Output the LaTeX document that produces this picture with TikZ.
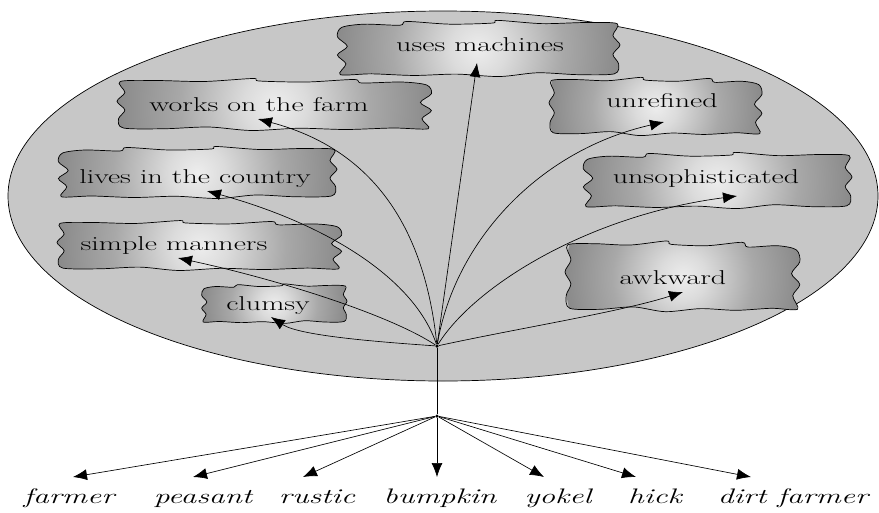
\documentclass[tikz,border=0pt]{standalone}
\usepackage{graphicx}
\usetikzlibrary{arrows.meta}

% 紙片の陰影
\pgfdeclareradialshading{blobshade}{\pgfpoint{0bp}{0bp}}{%
  color(0bp)=(black!7); color(5bp)=(black!14); color(15bp)=(black!34);
  color(30bp)=(black!52); color(50bp)=(black!64)}

% 横に伸ばした文字
\newcommand{\widetxt}[1]{\scalebox{1.5}[1]{#1}}

% 破れた紙片の輪郭
\def\tornpath{plot[smooth cycle, tension=0.5] coordinates {
  ({\bx-0.96*\bw},{\by-0.80*\bh}) ({\bx-0.80*\bw},{\by-0.92*\bh})
  ({\bx-0.55*\bw},{\by-0.88*\bh}) ({\bx-0.50*\bw},{\by-1.02*\bh})
  ({\bx-0.20*\bw},{\by-0.92*\bh}) ({\bx+0.10*\bw},{\by-0.96*\bh})
  ({\bx+0.14*\bw},{\by-1.06*\bh}) ({\bx+0.45*\bw},{\by-0.94*\bh})
  ({\bx+0.75*\bw},{\by-0.98*\bh}) ({\bx+0.98*\bw},{\by-0.94*\bh})
  ({\bx+0.95*\bw},{\by-0.50*\bh}) ({\bx+1.00*\bw},{\by-0.15*\bh})
  ({\bx+0.95*\bw},{\by+0.20*\bh}) ({\bx+0.99*\bw},{\by+0.55*\bh})
  ({\bx+0.96*\bw},{\by+0.92*\bh}) ({\bx+0.70*\bw},{\by+0.95*\bh})
  ({\bx+0.42*\bw},{\by+0.88*\bh}) ({\bx+0.15*\bw},{\by+1.02*\bh})
  ({\bx-0.15*\bw},{\by+0.93*\bh}) ({\bx-0.45*\bw},{\by+0.98*\bh})
  ({\bx-0.75*\bw},{\by+0.92*\bh}) ({\bx-0.97*\bw},{\by+0.95*\bh})
  ({\bx-0.93*\bw},{\by+0.55*\bh}) ({\bx-0.99*\bw},{\by+0.22*\bh})
  ({\bx-0.92*\bw},{\by-0.10*\bh}) ({\bx-0.99*\bw},{\by-0.45*\bh})}}

\newcommand{\tornblob}[4]{%
  \def\bx{#1}\def\by{#2}\def\bw{#3}\def\bh{#4}%
  \begin{scope}
    \clip \tornpath;
    \shade[shading=blobshade] (\bx,\by) circle ({abs(\bw)});
  \end{scope}
  \draw[blob edge] \tornpath;
}

\begin{document}
\begin{tikzpicture}[x=1pt,y=-1pt,
  blob edge/.style={draw=black, line width=0.7pt},
  label text/.style={anchor=base, inner sep=0pt, font=\fontsize{20}{24}\selectfont},
  word/.style={anchor=base, inner sep=0pt, font=\fontsize{21}{24}\selectfont\itshape},
  link/.style={line width=0.65pt, -{Latex[length=14pt,width=11pt]}},
  hubdot/.style={circle, fill=black, inner sep=0pt, minimum size=3.5pt}]
  \useasboundingbox (0,0) rectangle (879,512);

  % 楕円
  \fill[black!22] (443,196) ellipse [x radius=435, y radius=185];
  \draw[line width=0.7pt] (443,196) ellipse [x radius=435, y radius=185];

  % 紙片
  \tornblob{478}{49}{142}{27}
  \tornblob{275}{105}{-158}{25}
  \tornblob{197}{173}{140}{25}
  \tornblob{200}{246}{-143}{24}
  \tornblob{274}{304}{73}{19}
  \tornblob{656}{107}{-107}{28}
  \tornblob{717}{181}{135}{27}
  \tornblob{683}{277}{-118}{34}

  % ラベル
  \node[label text] (machines) at (480,51) {\widetxt{uses machines}};
  \node[label text] (farm) at (259,111) {\widetxt{works on the farm}};
  \node[label text] (country) at (195,183) {\widetxt{lives in the country}};
  \node[label text] (manners) at (174,250) {\widetxt{simple manners}};
  \node[label text] (clumsy) at (268,310) {\widetxt{clumsy}};
  \node[label text] (unrefined) at (662,107) {\widetxt{unrefined}};
  \node[label text] (unsoph) at (706,183) {\widetxt{unsophisticated}};
  \node[label text] (awkward) at (673,284) {\widetxt{awkward}};

  % 矢印の先
  \coordinate (machines-tip) at (477,63);
  \coordinate (farm-tip) at (258,119);
  \coordinate (country-tip) at (207,191);
  \coordinate (manners-tip) at (178,258);
  \coordinate (clumsy-tip) at (271,317);
  \coordinate (unrefined-tip) at (664,122);
  \coordinate (unsoph-tip) at (737,196);
  \coordinate (awkward-tip) at (683,292);

  % 分岐点
  \node[hubdot] (hub) at (437,346) {};
  \node[hubdot] (root) at (437,416) {};
  \draw[line width=0.65pt] (hub) -- (root);

  % 上の曲線
  \draw[link] (hub) -- (machines-tip);
  \draw[link] (hub) .. controls (425,230) and (375,150) .. (farm-tip);
  \draw[link] (hub) .. controls (415,280) and (330,225) .. (country-tip);
  \draw[link] (hub) .. controls (390,315) and (280,280) .. (manners-tip);
  \draw[link] (hub) .. controls (380,342) and (300,336) .. (clumsy-tip);
  \draw[link] (hub) .. controls (455,240) and (540,150) .. (unrefined-tip);
  \draw[link] (hub) .. controls (475,285) and (590,215) .. (unsoph-tip);
  \draw[link] (hub) .. controls (520,328) and (620,312) .. (awkward-tip);

  % 下の語
  \foreach \name/\tx/\wx/\txt in {farmer/73/69/farmer, peasant/193/203/peasant,
      rustic/303/317/rustic, bumpkin/437/440/bumpkin, yokel/544/558/yokel,
      hick/636/655/hick, dirt/751/793/dirt farmer} {
    \node[word] (\name) at (\wx,503) {\widetxt{\txt}};
    \coordinate (\name-tip) at (\tx,477);
    \draw[link] (root) -- (\name-tip);
  }
\end{tikzpicture}
\end{document}
